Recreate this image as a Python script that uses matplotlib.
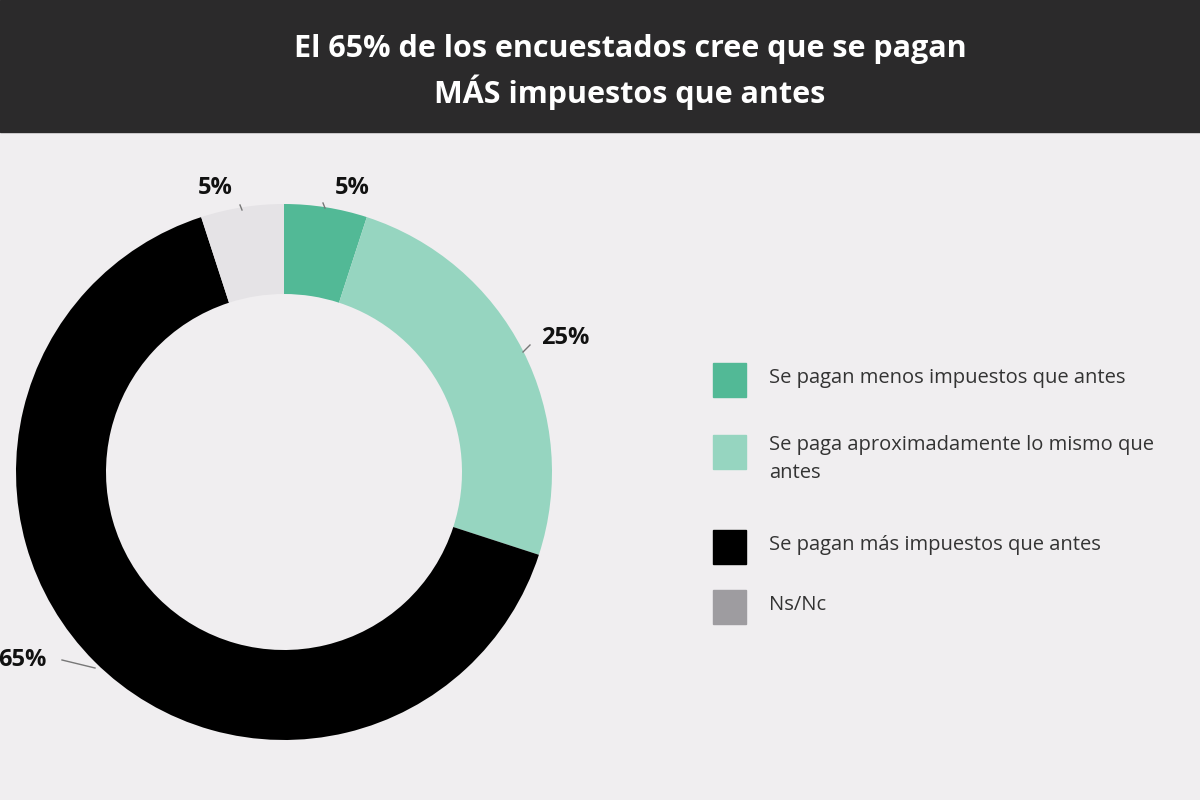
import matplotlib
matplotlib.use("Agg")
import matplotlib.pyplot as plt
from matplotlib.patches import Rectangle

categories = ["Se pagan menos impuestos que antes",
              "Se paga aproximadamente lo mismo que\nantes",
              "Se pagan más impuestos que antes",
              "Ns/Nc"]
values = [5, 25, 65, 5]
labels = ["5%", "25%", "65%", "5%"]
slice_colors = ["#52b996", "#96d5c0", "#000000", "#e5e3e6"]
legend_colors = ["#52b996", "#96d5c0", "#000000", "#9e9ca0"]
title = "El 65% de los encuestados cree que se pagan\nMÁS impuestos que antes"

W, H = 1200, 800
fig = plt.figure(figsize=(12, 8), dpi=100)
fig.patch.set_facecolor("#f0eef0")
font = "Open Sans"

# title bar
fig.patches.append(Rectangle((0, 1 - 132 / H), 1, 132 / H, transform=fig.transFigure,
                             color="#2b2a2b", zorder=0))
fig.text(0.525, 1 - 72 / H, title, ha="center", va="center", color="white",
         fontsize=22, fontweight="bold", family=font, linespacing=1.35)

cx, cy, r = 284, 472, 268
ax = fig.add_axes([(cx - r) / W, (H - cy - r) / H, 2 * r / W, 2 * r / H])
ax.pie(values, colors=slice_colors, startangle=90, counterclock=False,
       radius=1, wedgeprops=dict(width=1 - 178 / 268, edgecolor="none"))
ax.set_xlim(-1, 1); ax.set_ylim(-1, 1); ax.set_aspect("equal"); ax.axis("off")

def px(x, y):
    return x / W, 1 - y / H

label_pos = [(352, 188), (565, 338), (22, 660), (215, 188)]
line_pos = [((325, 208), (323, 203)), ((523, 352), (530, 345)),
            ((62, 660), (95, 668)), ((240, 205), (242, 210))]
for lab, (x, y), (a, b) in zip(labels, label_pos, line_pos):
    fig.text(*px(x, y), lab, ha="center", va="center", fontsize=17,
             fontweight="bold", family=font, color="#111111")
    fig.add_artist(plt.Line2D([a[0] / W, b[0] / W], [1 - a[1] / H, 1 - b[1] / H],
                              color="#777777", lw=1))

leg_y = [380, 452, 547, 607]
for c, t, y in zip(legend_colors, categories, leg_y):
    fig.patches.append(Rectangle(px(713, y + 17), 33 / W, 34 / H,
                                 transform=fig.transFigure, color=c))
    fig.text(*px(769, y - 2 if "\n" not in t else y + 7), t, ha="left", va="center",
             fontsize=14.5, family=font, color="#333333", linespacing=1.5)

fig.savefig("out.png", dpi=100)
